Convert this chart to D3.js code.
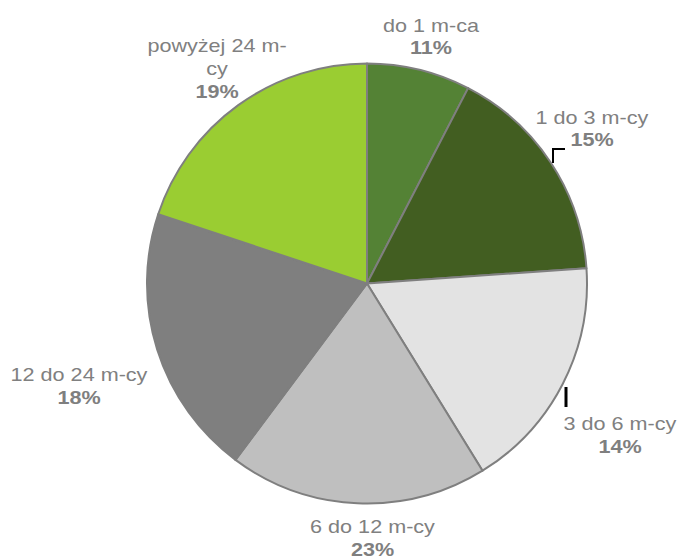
<!DOCTYPE html>
<html>
<head>
<meta charset="utf-8">
<script src="https://cdn.jsdelivr.net/npm/d3@7"></script>
<style>
  html, body { margin: 0; padding: 0; background: #fff; }
  svg { display: block; }
  text { font-family: "Liberation Sans", Arial, sans-serif; }
</style>
</head>
<body>
<svg id="chart" width="679" height="560"></svg>
<script>
// Data
const categories = ["do 1 m-ca", "1 do 3 m-cy", "3 do 6 m-cy", "6 do 12 m-cy", "12 do 24 m-cy", "powyżej 24 m-cy"];
const sliceValues = [7.6, 16.3, 17.3, 19.0, 19.9, 19.9];
const percentLabels = ["11%", "15%", "14%", "23%", "18%", "19%"];
const nameLines = [["do 1 m-ca"], ["1 do 3 m-cy"], ["3 do 6 m-cy"], ["6 do 12 m-cy"], ["12 do 24 m-cy"], ["powyżej 24 m-", "cy"]];

// Layout / style
const colors = ["#548235", "#425e21", "#e3e3e3", "#bfbfbf", "#7f7f7f", "#9acd32"];
const cx = 367, cy = 283.5, R = 220;
// label anchor (center x, first-line baseline y), relative to pie center
const labelPos = [[64, -252], [225, -160], [253, 146.5], [5.5, 249.5], [-288, 97.5], [-150, -231.5]];
const lineGap = 23;
const xScale = 1.2;

const svg = d3.select("#chart");
const g = svg.append("g").attr("transform", `translate(${cx},${cy})`);

const pie = d3.pie().sort(null).value(d => d).startAngle(0).endAngle(2 * Math.PI);
const arc = d3.arc().innerRadius(0).outerRadius(R);
const arcs = pie(sliceValues);

g.selectAll("path.slice")
  .data(arcs)
  .join("path")
  .attr("class", "slice")
  .attr("d", arc)
  .attr("fill", (d, i) => colors[i])
  .attr("stroke", "#7f7f7f")
  .attr("stroke-width", 2)
  .attr("stroke-linejoin", "round");

// Labels
const labels = g.selectAll("g.label")
  .data(arcs)
  .join("g")
  .attr("class", "label")
  .attr("transform", (d, i) => `translate(${labelPos[i][0]},${labelPos[i][1]}) scale(${xScale},1)`);

labels.each(function(d, i) {
  const sel = d3.select(this);
  const lines = nameLines[i];
  lines.forEach((ln, k) => {
    sel.append("text")
      .attr("x", 0)
      .attr("y", k * lineGap)
      .attr("text-anchor", "middle")
      .attr("font-size", 18)
      .attr("fill", "#808080")
      .text(ln);
  });
  sel.append("text")
    .attr("x", 0)
    .attr("y", lines.length * lineGap)
    .attr("text-anchor", "middle")
    .attr("font-size", 18)
    .attr("font-weight", "bold")
    .attr("fill", "#7f7f7f")
    .text(percentLabels[i]);
});

// Leader lines (slices 2 and 3)
const leader2 = d3.line()([[553 - cx, 163 - cy], [553 - cx, 149 - cy], [565 - cx, 149 - cy]]);
g.append("path").attr("d", leader2).attr("fill", "none").attr("stroke", "#000").attr("stroke-width", 2);
g.append("line")
  .attr("x1", 566 - cx).attr("y1", 387 - cy)
  .attr("x2", 566 - cx).attr("y2", 407 - cy)
  .attr("stroke", "#000").attr("stroke-width", 3);
</script>
</body>
</html>
